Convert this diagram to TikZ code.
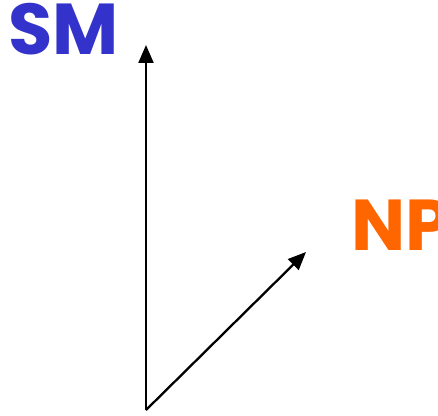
\documentclass[tikz,border=0pt]{standalone}
\usepackage{fontspec}
\usepackage{xcolor}
\usepackage{tikz}
\usetikzlibrary{arrows.meta, positioning}
\setmainfont{Poppins}[BoldFont={Poppins Bold}]
\definecolor{smblue}{HTML}{3333CC}
\definecolor{nporange}{HTML}{FF6600}

\begin{document}
\begin{tikzpicture}[x=0.02cm, y=-0.02cm, >={Triangle[length=0.36cm, width=0.3cm]},
    vec/.style={->, line width=1.3pt},
    lbl/.style={inner sep=0pt, font=\fontsize{41}{41}\selectfont\bfseries}]
  \useasboundingbox (0,0) rectangle (438,415);

  % Body
  \coordinate (o) at (146,410);
  \coordinate (smtip) at (146,45);
  \coordinate (nptip) at (306,252);

  % Vektory
  \draw[vec] (o) -- (smtip);
  \draw[vec] (o) -- (nptip);

  % Popisy
  \node[lbl, text=smblue, anchor=base west] (sm) at (8,55) {SM};
  \node[lbl, text=nporange, anchor=base west] (np) at (351,250) {NP};
\end{tikzpicture}
\end{document}
